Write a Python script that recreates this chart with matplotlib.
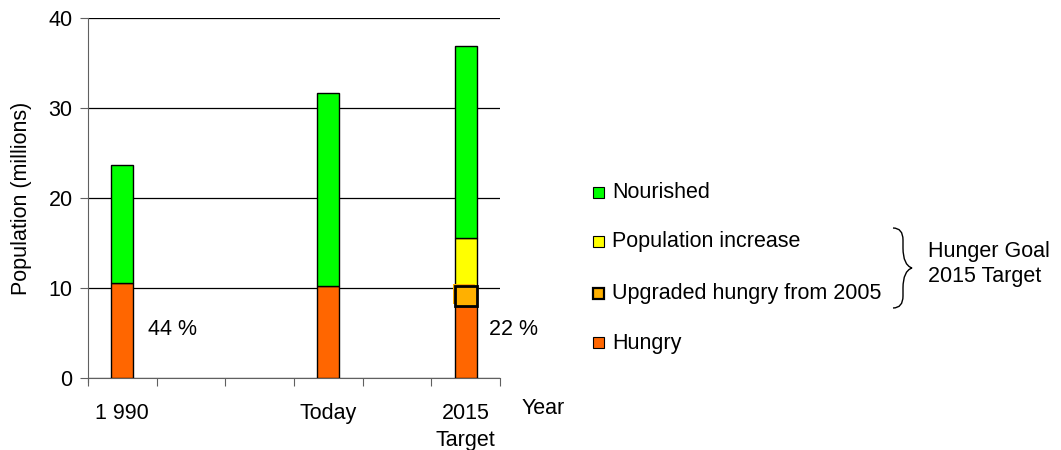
import numpy as np
import matplotlib
matplotlib.use('Agg')
from matplotlib import pyplot as plt
from matplotlib.patches import Rectangle, PathPatch
from matplotlib.path import Path

plt.rcParams['font.family'] = ['Liberation Sans', 'DejaVu Sans']

positions = [0, 3, 5]
labels = ['1 990', 'Today', '2015\nTarget']
hungry = [10.6, 10.25, 8.0]
upgraded = [0, 0, 2.2]
pop_increase = [0, 0, 5.4]
nourished = [13.1, 21.45, 21.3]
shares = ['44 %', '', '22 %']

c_nour = '#00ff00'
c_pop = '#ffff00'
c_upg = '#ffb000'
c_hun = '#ff6600'
fs = 15.5

fig = plt.figure(figsize=(10.61, 4.5), dpi=100)
ax = fig.add_axes([88 / 1061, 72 / 450, 412 / 1061, 360 / 450])

w = 0.32
hungry = np.array(hungry)
upgraded = np.array(upgraded)
pop_increase = np.array(pop_increase)
nourished = np.array(nourished)

ax.bar(positions, hungry, w, color=c_hun, edgecolor='black', linewidth=1, zorder=3)
b_up = positions[2]
ax.bar([b_up - 0.03], upgraded[2:], w, bottom=hungry[2:] + 0.2, color=c_upg, linewidth=0, zorder=3.5)
ax.bar([b_up], upgraded[2:], w, bottom=hungry[2:], color=c_upg, edgecolor='black', linewidth=2, zorder=4)
ax.bar([b_up], pop_increase[2:], w, bottom=(hungry + upgraded)[2:], color=c_pop, edgecolor='black', linewidth=1, zorder=3)
ax.bar(positions, nourished, w, bottom=hungry + upgraded + pop_increase, color=c_nour,
       edgecolor='black', linewidth=1, zorder=3)

ax.text(0.37, 5.4, shares[0], fontsize=fs, va='center', ha='left')
ax.text(5.34, 5.4, shares[2], fontsize=fs, va='center', ha='left', clip_on=False)

ax.set_xlim(-0.5, 5.5)
ax.set_ylim(0, 40)
ax.set_yticks(np.arange(0, 41, 10))
ax.yaxis.grid(True, color='black', linewidth=0.9, zorder=0)
ax.set_axisbelow(True)

ax.set_xticks(np.arange(-0.5, 5.6, 1))
ax.set_xticklabels([])
ax.set_xticks(positions, minor=True)
ax.set_xticklabels(labels, minor=True, fontsize=fs, linespacing=1.4)
ax.tick_params(axis='x', which='minor', length=0, pad=18)
ax.tick_params(axis='x', which='major', length=6, color='#606060', direction='out')
ax.tick_params(axis='y', length=6, color='#606060', labelsize=fs, pad=5)

for s in ['top', 'right']:
    ax.spines[s].set_visible(False)
for s in ['left', 'bottom']:
    ax.spines[s].set_color('#606060')
ax.spines['left'].set_bounds(-0.4, 40)

ax.set_ylabel('Population (millions)', fontsize=fs, labelpad=12)
fig.text(522 / 1061, 1 - 408 / 450, 'Year', fontsize=fs, va='center', ha='left')

# legend
leg_items = [('Nourished', c_nour, 1), ('Population increase', c_pop, 1),
             ('Upgraded hungry from 2005', c_upg, 2), ('Hungry', c_hun, 1)]
leg_y = [193, 242, 294, 343]
for (name, col, lw), yy in zip(leg_items, leg_y):
    fig.patches.append(Rectangle((593 / 1061, 1 - (yy + 5) / 450), 11 / 1061, 11 / 450,
                                 transform=fig.transFigure, facecolor=col,
                                 edgecolor='black', linewidth=lw * 0.8))
    fig.text(612 / 1061, 1 - yy / 450, name, fontsize=fs, va='center', ha='left')

# brace
def fx(x):
    return x / 1061
def fy(y):
    return 1 - y / 450
verts = [(fx(893), fy(228)), (fx(903), fy(228)), (fx(903), fy(240)),
         (fx(903), fy(248)), (fx(903), fy(265)), (fx(912), fy(268)),
         (fx(903), fy(271)), (fx(903), fy(288)),
         (fx(903), fy(296)), (fx(903), fy(308)), (fx(893), fy(308))]
codes = [Path.MOVETO, Path.CURVE3, Path.CURVE3,
         Path.LINETO, Path.CURVE3, Path.CURVE3,
         Path.CURVE3, Path.CURVE3,
         Path.LINETO, Path.CURVE3, Path.CURVE3]
fig.patches.append(PathPatch(Path(verts, codes), transform=fig.transFigure,
                             facecolor='none', edgecolor='black', linewidth=1))
fig.text(928 / 1061, 1 - 264 / 450, 'Hunger Goal\n2015 Target', fontsize=fs,
         va='center', ha='left', linespacing=1.25)

fig.savefig('out.png', dpi=100)
